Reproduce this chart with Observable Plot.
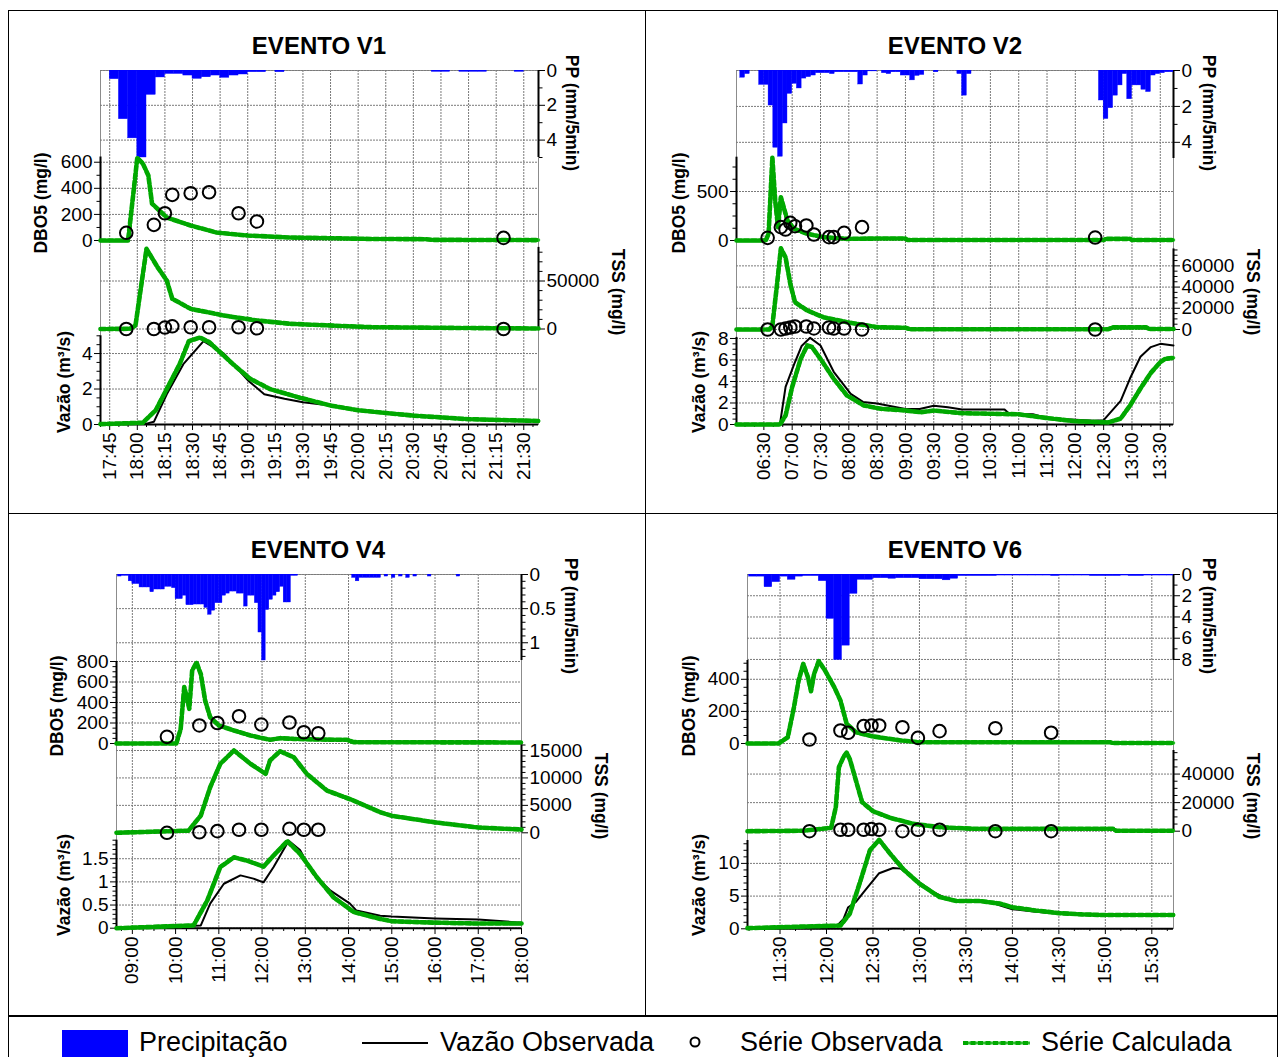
<!DOCTYPE html>
<html>
<head>
<meta charset="utf-8">
<script src="https://cdn.jsdelivr.net/npm/d3@7"></script>
<script src="https://cdn.jsdelivr.net/npm/@observablehq/plot@0.6"></script>
<style>
  html, body { margin: 0; padding: 0; background: #fff; }
  #page { position: relative; width: 1280px; height: 1057px; overflow: hidden;
          font-family: "Liberation Sans", Arial, Helvetica, sans-serif; color: #000; }
  #page svg { position: absolute; left: 0; top: 0; background: transparent !important; overflow: visible; max-width: none; }
  .rot { position: absolute; white-space: nowrap; font-weight: bold; font-size: 17.5px; line-height: 1; }
  .title { position: absolute; white-space: nowrap; font-weight: bold; font-size: 24px; transform: translate(-50%, -50%); line-height: 1; }
  .line { position: absolute; background: #000; }
  .leg { position: absolute; white-space: nowrap; font-size: 27px; line-height: 1; }
</style>
</head>
<body>
<div id="page"></div>
<script>
// ---------------- Evento V1 ----------------
const v1Rain = [["17:45",0.5],["17:50",2.8],["17:55",3.9],["18:00",5.0],["18:05",1.4],["18:10",0.4],
  ["18:15",0.2],["18:20",0.2],["18:25",0.29],["18:30",0.48],["18:35",0.39],["18:40",0.29],["18:45",0.42],
  ["18:50",0.29],["18:55",0.23],["19:00",0.1],["19:05",0.1],["19:15",0.1],["20:40",0.08],["20:45",0.08],
  ["20:55",0.08],["21:00",0.08],["21:05",0.08],["21:25",0.08]];
const v1DboCalc = [["17:40",0],["17:55",0],["18:00",634],["18:03",590],["18:06",498],["18:08",283],["18:16",176],
  ["18:29",115],["18:43",61],["19:00",38],["19:23",23],["20:07",12],["20:37",10],["20:40",5],["21:38",3]];
const v1ObsTime = ["17:54","18:09","18:15","18:19","18:29","18:39","18:55","19:05","21:19"];
const v1DboObs = [59,120,209,350,362,370,209,146,20];
const v1TssObs = [0,0,1500,2800,1800,1800,1800,800,0];
const v1TssCalc = [["17:40",0],["17:56",200],["17:59",3600],["18:05",83500],["18:11",64400],["18:16",50500],
  ["18:19",31500],["18:29",21000],["18:47",14000],["19:05",8900],["19:23",5400],["20:07",1900],["21:00",1000],["21:38",500]];
const v1FlowObs = [["17:40",0],["18:05",0.05],["18:09",0.15],["18:16",1.7],["18:25",3.4],["18:36",4.7],["18:47",4.0],
  ["19:00",2.5],["19:09",1.7],["19:20",1.45],["19:30",1.25],["19:45",1.07],["20:00",0.8],["20:15",0.65],["20:30",0.5],
  ["20:45",0.38],["21:00",0.3],["21:15",0.25],["21:38",0.2]];
const v1FlowCalc = [["17:40",0.02],["18:03",0.1],["18:10",0.8],["18:23",3.4],["18:28",4.7],["18:34",4.9],["18:39",4.65],
  ["18:52",3.4],["19:01",2.6],["19:12",2.0],["19:27",1.55],["19:45",1.07],["20:00",0.8],["20:30",0.5],["21:00",0.3],["21:38",0.2]];

// ---------------- Evento V2 ----------------
const v2Rain = [["06:05",0.4],["06:10",0.2],["06:25",0.8],["06:30",0.8],["06:35",1.95],["06:40",4.3],["06:45",4.8],
  ["06:50",2.95],["06:55",1.3],["07:00",0.74],["07:05",1.0],["07:10",0.45],["07:15",0.37],["07:20",0.28],["07:25",0.15],
  ["07:30",0.15],["07:35",0.15],["07:40",0.2],["07:45",0.1],["07:50",0.1],["07:55",0.1],["08:00",0.1],["08:05",0.1],
  ["08:10",0.78],["08:15",0.28],["08:20",0.05],["08:25",0.05],["08:35",0.15],["08:40",0.2],["08:45",0.1],["08:50",0.1],
  ["08:55",0.28],["09:00",0.28],["09:05",0.55],["09:10",0.3],["09:15",0.25],["09:30",0.1],["09:55",0.2],["10:00",1.4],
  ["10:05",0.2],["12:25",1.67],["12:30",2.7],["12:35",2.1],["12:40",1.4],["12:45",0.83],["12:50",0.2],["12:55",1.6],
  ["13:00",0.83],["13:05",0.83],["13:10",1.07],["13:15",1.2],["13:20",0.28],["13:25",0.2],["13:30",0.15],["13:35",0.1],["13:40",0.1]];
const v2DboCalc = [["06:01",0],["06:32",0],["06:35",68],["06:39",844],["06:42",408],["06:45",136],["06:48",442],
  ["06:51",340],["06:55",204],["07:02",119],["07:16",68],["07:33",34],["07:58",17],["08:30",20],["09:00",20],["09:02",5],
  ["12:30",5],["12:33",17],["12:58",17],["13:00",5],["13:44",5]];
const v2ObsTime = ["06:34","06:48","06:53","06:58","07:03","07:15","07:23","07:39","07:44","07:55","08:14","12:21"];
const v2DboObs = [27,136,112,180,146,153,61,34,34,78,136,30];
const v2TssObs = [0,0,900,1900,2800,2800,1000,1900,900,900,0,0];
const v2TssCalc = [["06:01",0],["06:36",0],["06:39",3800],["06:44",43000],["06:48",76500],["06:53",68000],["06:58",43000],
  ["07:03",25700],["07:16",17900],["07:33",11600],["07:58",6900],["08:30",2200],["09:00",1600],["09:05",300],["12:35",300],
  ["12:40",2000],["13:15",2000],["13:18",500],["13:44",500]];
const v2FlowObs = [["06:01",0],["06:47",0],["06:53",3.5],["07:02",5.6],["07:10",7.3],["07:19",8.06],["07:30",7.35],
  ["07:44",4.9],["08:02",2.85],["08:15",2.1],["08:30",1.95],["08:45",1.7],["09:00",1.45],["09:15",1.45],["09:30",1.75],
  ["09:45",1.6],["10:00",1.4],["10:45",1.4],["10:50",1.0],["11:15",0.95],["11:30",0.6],["12:00",0.45],["12:20",0.35],
  ["12:30",0.4],["12:37",1.1],["12:48",2.2],["12:58",4.3],["13:09",6.3],["13:20",7.2],["13:30",7.5],["13:44",7.35]];
const v2FlowCalc = [["06:01",0],["06:47",0],["06:53",0.84],["07:00",3.5],["07:09",6.1],["07:16",7.35],["07:21",7.2],
  ["07:30",6.1],["07:44",4.25],["07:58",2.7],["08:16",1.77],["08:34",1.46],["09:00",1.3],["09:16",1.14],["09:30",1.3],
  ["10:00",1.05],["10:30",1.0],["11:00",0.95],["11:30",0.6],["12:00",0.3],["12:35",0.2],["12:48",0.55],["12:58",1.77],
  ["13:09",3.35],["13:20",4.8],["13:30",5.8],["13:35",6.1],["13:44",6.2]];

// ---------------- Evento V4 ----------------
const v4Rain = [["08:40",0.03],["08:45",0.02],["08:50",0.02],["08:55",0.1],["09:00",0.14],["09:05",0.14],["09:10",0.19],
  ["09:15",0.19],["09:20",0.19],["09:25",0.26],["09:30",0.22],["09:35",0.22],["09:40",0.22],["09:45",0.18],["09:50",0.18],
  ["09:55",0.2],["10:00",0.36],["10:05",0.36],["10:10",0.31],["10:15",0.45],["10:20",0.45],["10:25",0.44],["10:30",0.44],
  ["10:35",0.44],["10:40",0.49],["10:45",0.59],["10:50",0.53],["10:55",0.42],["11:00",0.42],["11:05",0.31],["11:10",0.28],
  ["11:15",0.25],["11:20",0.25],["11:25",0.28],["11:30",0.28],["11:35",0.47],["11:40",0.31],["11:45",0.31],["11:50",0.42],
  ["11:55",0.85],["12:00",1.26],["12:05",0.52],["12:10",0.37],["12:15",0.31],["12:20",0.26],["12:25",0.18],["12:30",0.41],
  ["12:35",0.41],["12:40",0.02],["12:45",0.02],["14:05",0.05],["14:10",0.1],["14:15",0.05],["14:20",0.05],["14:25",0.05],
  ["14:30",0.05],["14:35",0.05],["14:40",0.05],["14:50",0.03],["15:00",0.05],["15:10",0.03],["15:20",0.05],["15:30",0.03],
  ["15:50",0.03],["16:30",0.03]];
const v4DboCalc = [["08:38",0],["10:01",0],["10:07",140],["10:12",550],["10:16",436],["10:19",338],["10:23",712],
  ["10:29",790],["10:35",677],["10:41",420],["10:48",256],["11:00",176],["11:21",127],["11:44",78],["12:11",36],
  ["12:25",52],["12:44",45],["13:16",39],["13:58",36],["14:07",13],["18:00",10]];
const v4ObsTime = ["09:48","10:33","10:58","11:28","11:59","12:38","12:58","13:18"];
const v4DboObs = [65,176,200,266,185,205,110,100];
const v4TssObs = [0,100,300,550,550,730,550,550];
const v4TssCalc = [["08:38",0],["10:18",400],["10:35",3150],["10:48",8300],["11:02",12570],["11:21",15000],
  ["11:44",12570],["12:05",10750],["12:11",13170],["12:25",14860],["12:44",13770],["13:02",10750],["13:30",7700],
  ["14:07",5880],["14:44",3750],["15:00",3100],["16:00",1900],["17:00",960],["18:00",600]];
const v4FlowObs = [["08:38",0],["10:35",0.06],["10:48",0.53],["11:07",0.96],["11:30",1.14],["11:48",1.07],["12:02",0.99],
  ["12:16",1.32],["12:37",1.89],["12:53",1.68],["13:11",1.17],["13:35",0.81],["14:02",0.53],["14:11",0.38],["14:44",0.27],
  ["15:00",0.25],["16:00",0.21],["17:00",0.19],["18:00",0.12]];
const v4FlowCalc = [["08:38",0],["10:25",0.06],["10:44",0.6],["11:02",1.32],["11:21",1.53],["11:39",1.46],["12:02",1.33],
  ["12:16",1.57],["12:35",1.88],["12:53",1.6],["13:16",1.1],["13:39",0.67],["14:07",0.35],["14:44",0.2],["15:00",0.15],
  ["16:00",0.12],["17:00",0.1],["18:00",0.1]];

// ---------------- Evento V6 ----------------
const v6Rain = [["11:10",0.2],["11:15",0.2],["11:20",1.2],["11:25",0.72],["11:30",0.2],["11:35",0.5],["11:40",0.2],
  ["11:45",0.15],["11:50",0.15],["11:55",0.63],["12:00",4.18],["12:05",8.05],["12:10",6.7],["12:15",1.82],["12:20",0.5],
  ["12:25",0.5],["12:30",0.35],["12:35",0.35],["12:40",0.4],["12:45",0.35],["12:50",0.35],["12:55",0.35],["13:00",0.45],
  ["13:05",0.45],["13:10",0.45],["13:15",0.55],["13:20",0.4],["13:25",0.15],["13:30",0.15],["13:35",0.15],["13:40",0.15],
  ["13:45",0.15],["13:50",0.1],["13:55",0.1],["14:00",0.1],["14:05",0.1],["14:10",0.1],["14:15",0.1],["14:20",0.1],
  ["14:25",0.15],["14:30",0.1],["14:35",0.1],["14:40",0.1],["14:45",0.1],["14:50",0.15],["14:55",0.15],["15:00",0.15],
  ["15:05",0.15],["15:10",0.1],["15:15",0.15],["15:20",0.15],["15:25",0.1],["15:30",0.1],["15:35",0.1],["15:40",0.1]];
const v6DboCalc = [["11:09",0],["11:29",0],["11:35",39],["11:39",226],["11:42",392],["11:45",496],["11:48",413],
  ["11:50",326],["11:52",434],["11:55",513],["11:59",455],["12:05",351],["12:09",268],["12:13",123],["12:19",70],
  ["12:30",44],["12:48",19],["13:00",8],["15:03",8],["15:05",3],["15:44",3]];
const v6ObsTime = ["11:49","12:09","12:14","12:24","12:29","12:34","12:49","12:59","13:13","13:49","14:25"];
const v6DboObs = [25,81,67,108,112,112,101,35,77,95,67];
const v6TssObs = [0,1000,1000,1000,1500,1000,0,1000,1000,0,0];
const v6TssCalc = [["11:09",0],["11:45",300],["12:03",2400],["12:06",16800],["12:08",44800],["12:11",52000],
  ["12:13",55000],["12:15",50600],["12:19",35500],["12:23",20300],["12:30",14000],["12:41",9400],["12:56",5200],
  ["13:13",2800],["13:35",1700],["15:05",1700],["15:07",300],["15:44",300]];
const v6FlowObs = [["11:09",0],["12:07",0.5],["12:11",1.5],["12:14",3.3],["12:19",4.1],["12:24",5.6],["12:34",8.5],
  ["12:43",9.3],["12:48",9.2],["12:58",7.4],["13:09",5.6],["13:20",4.35],["13:35",4.25],["13:46",4.0],["14:00",3.0],
  ["14:15",2.6],["14:30",2.3],["14:45",2.15],["15:00",2.1],["15:44",2.05]];
const v6FlowCalc = [["11:09",0.1],["12:09",0.5],["12:15",2.3],["12:22",7.4],["12:28",12.0],["12:34",13.6],["12:41",11.5],
  ["12:50",9.0],["13:00",6.9],["13:13",4.86],["13:24",4.25],["13:39",4.25],["13:52",3.85],["14:00",3.3],["14:15",2.8],
  ["14:30",2.4],["14:45",2.2],["15:00",2.1],["15:44",2.1]];

// ---------------- text ----------------
const titles = ["EVENTO V1", "EVENTO V2", "EVENTO V4", "EVENTO V6"];
const axisNames = { pp: "PP (mm/5min)", dbo: "DBO5 (mg/l)", tss: "TSS (mg/l)", q: "Vazão (m³/s)" };
const legendNames = ["Precipitação", "Vazão Observada", "Série Observada", "Série Calculada"];

// ---------------- helpers ----------------
const W = 1280, H = 1057;
const FONT = "'Liberation Sans', Arial, Helvetica, sans-serif";
const BLUE = "#0000ff", GREEN = "#2ebf2e", GREEN_DARK = "#00a800";
const GRID = { stroke: "#7a7a7a", strokeOpacity: 1, strokeWidth: 1, strokeDasharray: "2 1" };
const page = document.getElementById("page");

const hm = s => { const [h, m] = s.split(":").map(Number); return h * 60 + m; };
const fmt = t => String(Math.floor(t / 60)).padStart(2, "0") + ":" + String(t % 60).padStart(2, "0");
const every = (a, b, step) => d3.range(hm(a), hm(b) + 0.001, step);
const pairs = (times, values) => times.map((t, i) => [t, values[i]]);

function makePlot(p, band, marks) {
  const svg = Plot.plot({
    width: W, height: H,
    marginLeft: p.L, marginRight: W - p.R, marginTop: p.T, marginBottom: H - p.B,
    x: { domain: p.x, axis: null },
    y: band ? { domain: band.domain, range: band.range, axis: null } : undefined,
    style: { background: "transparent", fontFamily: FONT, fontSize: "19px", color: "#000", overflow: "visible" },
    marks
  });
  page.appendChild(svg);
}

// gridlines, black axis line and ticks for one stacked sub-chart
function bandAxis(p, b, side) {
  const x0 = side === "left" ? p.x[0] : p.x[1];
  const minor = d3.range(0, b.domain[1] + 1e-9, b.minor).filter(v => !b.major.some(m => Math.abs(m - v) < 1e-9));
  return [
    Plot.gridY(b.major, GRID),
    Plot.ruleX([x0], { y1: 0, y2: b.domain[1], stroke: "#000", strokeWidth: 2 }),
    Plot.axisY(minor, { anchor: side, tickSize: 3.5, tickFormat: () => "", label: null }),
    Plot.axisY(b.major, { anchor: side, tickSize: 6, tickPadding: 2, tickFormat: d => String(d), label: null })
  ];
}

const X = d => hm(d[0]), Y = d => d[1];
const calcLine = data => [
  Plot.line(data, { x: X, y: Y, stroke: GREEN, strokeWidth: 3.6 }),
  Plot.line(data, { x: X, y: Y, stroke: GREEN_DARK, strokeWidth: 4.6, strokeDasharray: "5 2.5" })
];
const obsDots = data => Plot.dot(data, { x: X, y: Y, r: 6.3, stroke: "#000", strokeWidth: 2, fill: "none" });

function addText(cls, text, x, y, rot) {
  const el = document.createElement("div");
  el.className = cls;
  el.textContent = text;
  el.style.left = x + "px";
  el.style.top = y + "px";
  if (rot !== undefined) el.style.transform = `translate(-50%, -50%) rotate(${rot}deg)`;
  page.appendChild(el);
}

function drawPanel(p, d) {
  const minorX = d3.range(Math.ceil(p.x[0] / p.minorStep) * p.minorStep, p.x[1] + 0.001, p.minorStep)
    .filter(t => !p.major.includes(t));
  // time grid, frame and time axis
  makePlot(p, null, [
    Plot.gridX(p.major, GRID),
    Plot.frame({ stroke: "#8c8c8c", strokeWidth: 1 }),
    Plot.axisX(minorX, { anchor: "bottom", tickSize: 3, tickFormat: () => "", label: null }),
    Plot.axisX(p.major, { anchor: "bottom", tickSize: 6, tickPadding: 2, tickRotate: -90, tickFormat: fmt, label: null })
  ]);
  // precipitation, hanging from the top
  makePlot(p, p.pp, [
    ...bandAxis(p, p.pp, "right"),
    Plot.rectY(d.rain, { x1: X, x2: r => hm(r[0]) + 5, y1: 0, y2: Y, fill: BLUE, stroke: BLUE, strokeWidth: 0.4, clip: true })
  ]);
  // DBO5
  makePlot(p, p.dbo, [...bandAxis(p, p.dbo, "left"), ...calcLine(d.dboCalc), obsDots(pairs(d.obsTime, d.dboObs))]);
  // TSS
  makePlot(p, p.tss, [...bandAxis(p, p.tss, "right"), ...calcLine(d.tssCalc), obsDots(pairs(d.obsTime, d.tssObs))]);
  // discharge
  makePlot(p, p.q, [
    ...bandAxis(p, p.q, "left"),
    Plot.ruleY([0], { stroke: "#000", strokeWidth: 2 }),
    Plot.line(d.flowObs, { x: X, y: Y, stroke: "#000", strokeWidth: 2 }),
    ...calcLine(d.flowCalc)
  ]);
  addText("title", p.title, p.lab.title[0], p.lab.title[1]);
  addText("rot", axisNames.dbo, p.lab.dbo[0], p.lab.dbo[1], -90);
  addText("rot", axisNames.q, p.lab.q[0], p.lab.q[1], -90);
  addText("rot", axisNames.pp, p.lab.pp[0], p.lab.pp[1], 90);
  addText("rot", axisNames.tss, p.lab.tss[0], p.lab.tss[1], 90);
}

// ---------------- panel layouts ----------------
const panels = [
  { title: titles[0], L: 100, R: 538, T: 70, B: 424, x: [hm("17:40"), hm("21:38")],
    major: every("17:45", "21:30", 15), minorStep: 5,
    pp:  { domain: [0, 5],     range: [70, 157],      major: [0, 2, 4],           minor: 1 },
    dbo: { domain: [0, 640],   range: [240, 156.5],   major: [0, 200, 400, 600],  minor: 100 },
    tss: { domain: [0, 85000], range: [328.5, 246.9], major: [0, 50000],          minor: 10000 },
    q:   { domain: [0, 5],     range: [424, 335.3],   major: [0, 2, 4],           minor: 0.5 },
    lab: { title: [319, 46], dbo: [42, 203], q: [65, 382], pp: [571, 113], tss: [617, 292] } },
  { title: titles[1], L: 736, R: 1173, T: 70, B: 424, x: [hm("06:01"), hm("13:44")],
    major: every("06:30", "13:30", 30), minorStep: 10,
    pp:  { domain: [0, 4.9],   range: [70, 158],      major: [0, 2, 4],           minor: 1 },
    dbo: { domain: [0, 850],   range: [240, 156.7],   major: [0, 500],            minor: 125 },
    tss: { domain: [0, 76000], range: [329, 248.4],   major: [0, 20000, 40000, 60000], minor: 5000 },
    q:   { domain: [0, 8.1],   range: [424, 336.9],   major: [0, 2, 4, 6, 8],     minor: 0.5 },
    lab: { title: [955, 46], dbo: [680, 203], q: [700, 382], pp: [1208, 113], tss: [1252, 292] } },
  { title: titles[2], L: 116, R: 521, T: 574, B: 928, x: [hm("08:38"), hm("18:00")],
    major: every("09:00", "18:00", 60), minorStep: 15,
    pp:  { domain: [0, 1.26],  range: [574, 660],     major: [0, 0.5, 1],         minor: 0.1 },
    dbo: { domain: [0, 800],   range: [743, 661],     major: [0, 200, 400, 600, 800], minor: 50 },
    tss: { domain: [0, 16000], range: [832.3, 744.5], major: [0, 5000, 10000, 15000], minor: 1000 },
    q:   { domain: [0, 1.9],   range: [927.7, 839.7], major: [0, 0.5, 1, 1.5],    minor: 0.1 },
    lab: { title: [318, 550], dbo: [58, 706], q: [65, 885], pp: [570, 616], tss: [600, 796] } },
  { title: titles[3], L: 747, R: 1173, T: 574, B: 928, x: [hm("11:09"), hm("15:44")],
    major: every("11:30", "15:30", 30), minorStep: 10,
    pp:  { domain: [0, 8.1],   range: [574, 660],     major: [0, 2, 4, 6, 8],     minor: 1 },
    dbo: { domain: [0, 517],   range: [743, 660],     major: [0, 200, 400],       minor: 50 },
    tss: { domain: [0, 56500], range: [830.7, 750],   major: [0, 20000, 40000],   minor: 5000 },
    q:   { domain: [0, 13.5],  range: [928.3, 840],   major: [0, 5, 10],          minor: 1 },
    lab: { title: [955, 550], dbo: [690, 706], q: [700, 885], pp: [1208, 616], tss: [1252, 796] } }
];

const series = [
  { rain: v1Rain, dboCalc: v1DboCalc, tssCalc: v1TssCalc, obsTime: v1ObsTime, dboObs: v1DboObs, tssObs: v1TssObs, flowObs: v1FlowObs, flowCalc: v1FlowCalc },
  { rain: v2Rain, dboCalc: v2DboCalc, tssCalc: v2TssCalc, obsTime: v2ObsTime, dboObs: v2DboObs, tssObs: v2TssObs, flowObs: v2FlowObs, flowCalc: v2FlowCalc },
  { rain: v4Rain, dboCalc: v4DboCalc, tssCalc: v4TssCalc, obsTime: v4ObsTime, dboObs: v4DboObs, tssObs: v4TssObs, flowObs: v4FlowObs, flowCalc: v4FlowCalc },
  { rain: v6Rain, dboCalc: v6DboCalc, tssCalc: v6TssCalc, obsTime: v6ObsTime, dboObs: v6DboObs, tssObs: v6TssObs, flowObs: v6FlowObs, flowCalc: v6FlowCalc }
];

// table borders around the four panels and the legend row
function rule(x, y, w, h) {
  const el = document.createElement("div");
  el.className = "line";
  Object.assign(el.style, { left: x + "px", top: y + "px", width: w + "px", height: h + "px" });
  page.appendChild(el);
}
rule(8, 10, 1270, 1);
rule(8, 10, 1, 1047);
rule(1277, 10, 1, 1047);
rule(645, 10, 1, 1006);
rule(8, 513, 1270, 1);
rule(8, 1015, 1270, 2);

panels.forEach((p, i) => drawPanel(p, series[i]));

// legend row
const leg = document.createElement("div");
Object.assign(leg.style, { position: "absolute", left: "62px", top: "1030px", width: "66px", height: "27px", background: BLUE });
page.appendChild(leg);
const legY = 1029;
addText("leg", legendNames[0], 139, legY);
rule(362, 1042, 66, 2);
addText("leg", legendNames[1], 440, legY);
const legSvg = d3.create("svg").attr("width", W).attr("height", H);
legSvg.append("circle").attr("cx", 695).attr("cy", 1042).attr("r", 4.5).attr("fill", "none").attr("stroke", "#000").attr("stroke-width", 2);
legSvg.append("line").attr("x1", 963).attr("x2", 1030).attr("y1", 1043).attr("y2", 1043).attr("stroke", GREEN).attr("stroke-width", 3);
legSvg.append("line").attr("x1", 963).attr("x2", 1030).attr("y1", 1043).attr("y2", 1043).attr("stroke", GREEN_DARK).attr("stroke-width", 4).attr("stroke-dasharray", "5 2.5");
page.appendChild(legSvg.node());
addText("leg", legendNames[2], 740, legY);
addText("leg", legendNames[3], 1041, legY);
</script>
</body>
</html>
